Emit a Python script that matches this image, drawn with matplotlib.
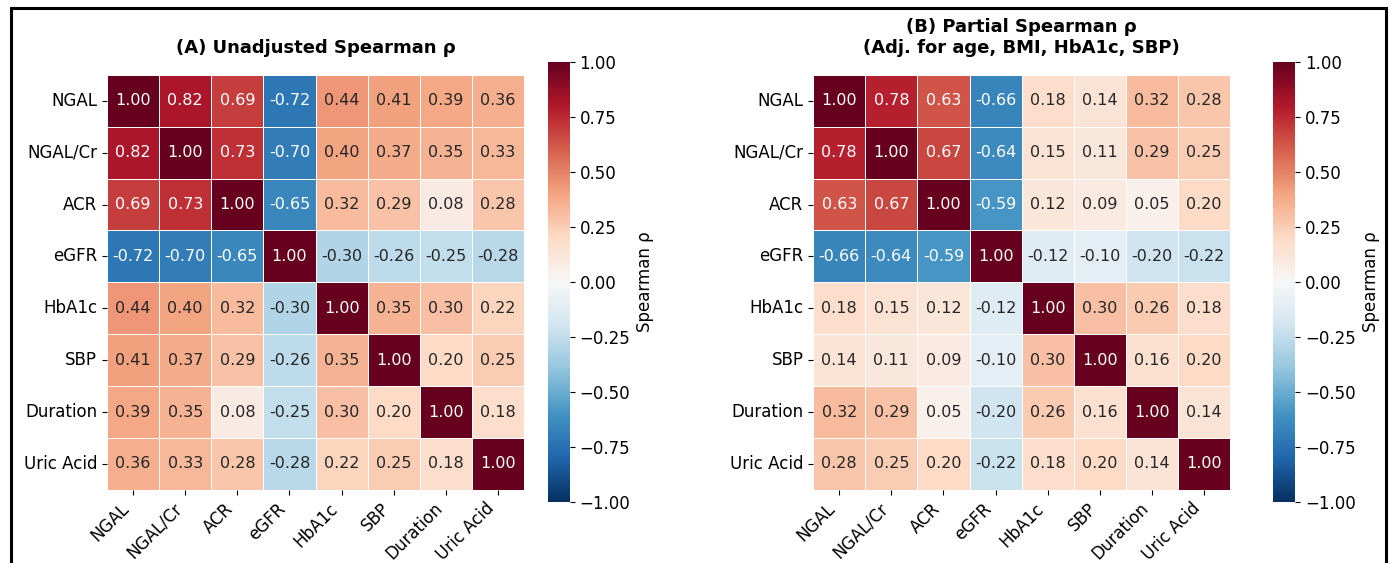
import numpy as np
import matplotlib
matplotlib.use('Agg')
import matplotlib.pyplot as plt
import seaborn as sns
from matplotlib.patches import Rectangle

variables = ["NGAL", "NGAL/Cr", "ACR", "eGFR", "HbA1c", "SBP", "Duration", "Uric Acid"]

# Unadjusted Spearman correlations
rho_unadj = [
    [1.00, 0.82, 0.69, -0.72, 0.44, 0.41, 0.39, 0.36],
    [0.82, 1.00, 0.73, -0.70, 0.40, 0.37, 0.35, 0.33],
    [0.69, 0.73, 1.00, -0.65, 0.32, 0.29, 0.08, 0.28],
    [-0.72, -0.70, -0.65, 1.00, -0.30, -0.26, -0.25, -0.28],
    [0.44, 0.40, 0.32, -0.30, 1.00, 0.35, 0.30, 0.22],
    [0.41, 0.37, 0.29, -0.26, 0.35, 1.00, 0.20, 0.25],
    [0.39, 0.35, 0.08, -0.25, 0.30, 0.20, 1.00, 0.18],
    [0.36, 0.33, 0.28, -0.28, 0.22, 0.25, 0.18, 1.00],
]

# Partial correlations adjusted for age, BMI, HbA1c, SBP
rho_partial = [
    [1.00, 0.78, 0.63, -0.66, 0.18, 0.14, 0.32, 0.28],
    [0.78, 1.00, 0.67, -0.64, 0.15, 0.11, 0.29, 0.25],
    [0.63, 0.67, 1.00, -0.59, 0.12, 0.09, 0.05, 0.20],
    [-0.66, -0.64, -0.59, 1.00, -0.12, -0.10, -0.20, -0.22],
    [0.18, 0.15, 0.12, -0.12, 1.00, 0.30, 0.26, 0.18],
    [0.14, 0.11, 0.09, -0.10, 0.30, 1.00, 0.16, 0.20],
    [0.32, 0.29, 0.05, -0.20, 0.26, 0.16, 1.00, 0.14],
    [0.28, 0.25, 0.20, -0.22, 0.18, 0.20, 0.14, 1.00],
]

plt.rcParams['font.family'] = 'DejaVu Sans'

fig = plt.figure(figsize=(13.9, 5.63), dpi=100)

panels = [
    (rho_unadj, "(A) Unadjusted Spearman ρ", [0.077, 0.130, 0.300, 0.737], [0.394, 0.108, 0.016, 0.782]),
    (rho_partial, "(B) Partial Spearman ρ\n(Adj. for age, BMI, HbA1c, SBP)", [0.585, 0.130, 0.300, 0.737], [0.916, 0.108, 0.016, 0.782]),
]

for data, title, pos, cpos in panels:
    ax = fig.add_axes(pos)
    cax = fig.add_axes(cpos)
    sns.heatmap(np.array(data), ax=ax, cbar_ax=cax, cmap="RdBu_r", vmin=-1, vmax=1,
                annot=True, fmt=".2f", annot_kws={"size": 11.5},
                linewidths=0.5, linecolor="white",
                xticklabels=variables, yticklabels=variables,
                cbar_kws={"label": "Spearman ρ"})
    ax.set_title(title, fontsize=13, fontweight="bold", pad=16)
    ax.set_xticklabels(variables, rotation=45, ha="right", fontsize=12)
    ax.set_yticklabels(variables, rotation=0, fontsize=12)
    cax.tick_params(labelsize=12)
    cax.set_ylabel("Spearman ρ", fontsize=12)

# outer frame
fig.patches.append(Rectangle((0.008, -0.05), 0.989, 1.036, transform=fig.transFigure,
                             fill=False, edgecolor="black", linewidth=2.2))

fig.savefig("out.png", dpi=100)
